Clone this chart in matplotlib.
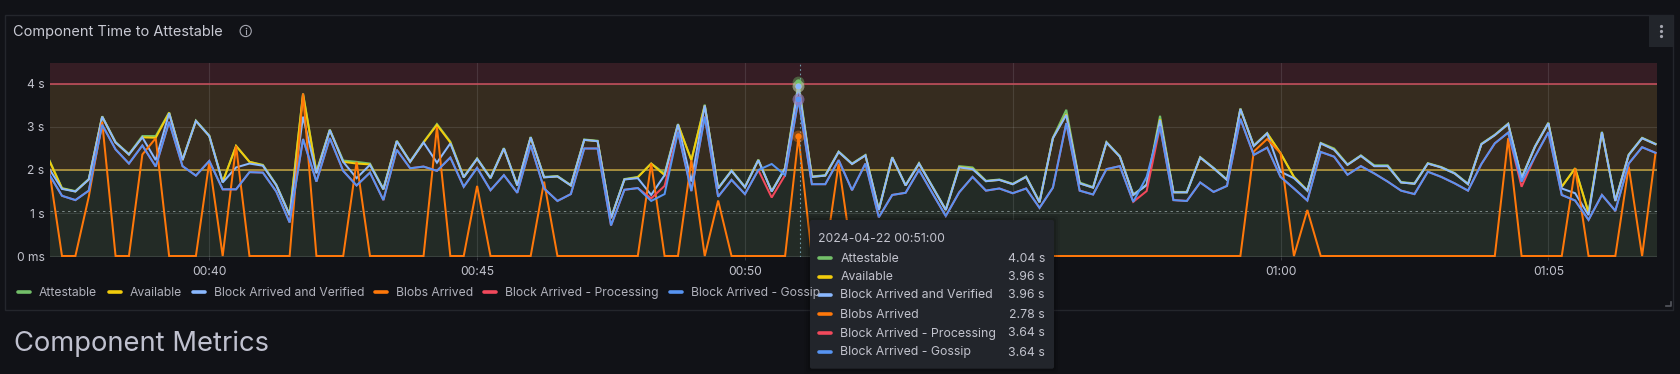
#grafana panel: component time to attestable

import numpy as np
import matplotlib
matplotlib.use('Agg')
import matplotlib.pyplot as plt
from matplotlib.patches import Rectangle, FancyBboxPatch, Circle

plt.rcParams['font.family'] = ['Inter', 'DejaVu Sans']

#values are in seconds, one sample every 15 s starting at 00:37:00
attestable = [2.27, 1.58, 1.51, 1.79, 3.25, 2.65, 2.37, 2.79, 2.79, 3.34,
              2.24, 3.15, 2.80, 1.73, 2.56, 2.19, 2.12, 1.66, 0.96, 3.78,
              1.96, 2.94, 2.22, 2.19, 2.15, 1.56, 2.68, 2.20, 2.65, 3.07,
              2.66, 1.84, 2.27, 1.82, 2.51, 1.65, 2.77, 1.84, 1.86, 1.65,
              2.71, 2.68, 0.89, 1.79, 1.84, 2.15, 1.92, 3.07, 2.23, 3.52,
              1.58, 1.99, 1.61, 2.24, 1.51, 2.05, 4.04, 1.85, 1.88, 2.43,
              2.15, 2.35, 1.08, 2.30, 1.65, 2.16, 1.62, 1.08, 2.09, 2.06,
              1.75, 1.78, 1.68, 1.85, 1.26, 2.75, 3.40, 1.71, 1.60, 2.65,
              2.32, 1.43, 1.66, 3.26, 1.49, 1.49, 2.30, 2.05, 1.78, 3.43,
              2.57, 2.86, 2.39, 1.84, 1.53, 2.63, 2.50, 2.13, 2.34, 2.11,
              2.11, 1.72, 1.69, 2.16, 2.07, 1.93, 1.68, 2.61, 2.82, 3.08,
              1.82, 2.55, 3.10, 1.61, 2.04, 1.01, 2.89, 1.29, 2.36, 2.75, 2.61]
available = [2.25, 1.57, 1.50, 1.78, 3.24, 2.64, 2.36, 2.76, 2.75, 3.33,
             2.23, 3.14, 2.79, 1.72, 2.56, 2.19, 2.11, 1.65, 0.95, 3.76,
             1.94, 2.93, 2.19, 2.15, 2.13, 1.55, 2.67, 2.19, 2.64, 3.05,
             2.64, 1.83, 2.26, 1.81, 2.50, 1.64, 2.76, 1.83, 1.85, 1.64,
             2.70, 2.67, 0.88, 1.78, 1.83, 2.15, 1.88, 3.06, 2.23, 3.50,
             1.57, 1.98, 1.60, 2.23, 1.50, 2.04, 3.96, 1.84, 1.87, 2.42,
             2.14, 2.34, 1.07, 2.29, 1.64, 2.15, 1.61, 1.07, 2.07, 2.03,
             1.74, 1.77, 1.67, 1.84, 1.25, 2.74, 3.30, 1.69, 1.59, 2.64,
             2.31, 1.42, 1.65, 3.18, 1.48, 1.48, 2.29, 2.04, 1.77, 3.42,
             2.56, 2.85, 2.39, 1.84, 1.52, 2.62, 2.48, 2.12, 2.33, 2.09,
             2.09, 1.71, 1.68, 2.15, 2.06, 1.92, 1.67, 2.60, 2.81, 3.07,
             1.81, 2.54, 3.09, 1.61, 2.04, 1.01, 2.88, 1.28, 2.35, 2.74, 2.60]
verified = [2.05, 1.56, 1.50, 1.78, 3.24, 2.64, 2.36, 2.76, 2.23, 3.32,
            2.23, 3.14, 2.79, 1.71, 2.06, 2.15, 2.10, 1.65, 0.95, 3.24,
            1.92, 2.93, 2.19, 1.81, 2.12, 1.55, 2.67, 2.19, 2.64, 2.17,
            2.62, 1.83, 2.26, 1.81, 2.50, 1.64, 2.76, 1.83, 1.85, 1.64,
            2.70, 2.67, 0.88, 1.78, 1.81, 1.42, 1.88, 3.06, 1.73, 3.50,
            1.57, 1.98, 1.60, 2.23, 1.50, 2.04, 3.96, 1.84, 1.87, 2.42,
            2.14, 2.34, 1.07, 2.29, 1.64, 2.15, 1.61, 1.07, 2.06, 2.02,
            1.74, 1.77, 1.67, 1.84, 1.25, 2.74, 3.28, 1.69, 1.59, 2.64,
            2.31, 1.42, 1.65, 3.16, 1.48, 1.48, 2.29, 2.04, 1.77, 3.42,
            2.56, 2.85, 1.96, 1.81, 1.52, 2.62, 2.47, 2.12, 2.33, 2.09,
            2.09, 1.71, 1.68, 2.15, 2.06, 1.92, 1.67, 2.60, 2.81, 3.07,
            1.81, 2.54, 3.09, 1.57, 1.46, 0.95, 2.88, 1.28, 2.35, 2.74, 2.60]
blobs = [2.10, 0, 0, 1.38, 3.12, 0, 0, 2.36, 2.74, 0,
         0, 0, 2.19, 0, 2.56, 0, 0, 0, 0, 3.78,
         0, 0, 0, 2.19, 0, 0, 0, 0, 0, 3.00,
         0, 0, 1.63, 0, 0, 0, 0, 1.73, 0, 0,
         0, 0, 0, 0, 0, 2.15, 0, 0, 2.23, 0,
         1.29, 0, 0, 0, 0, 0, 2.78, 0, 0, 2.15,
         0, 0, 0, 0, 0, 0, 0, 0, 0, 0,
         0, 0, 0, 0, 0, 0, 0, 0, 0, 0,
         0, 0, 0, 0, 0, 0, 0, 0, 0, 0,
         2.43, 2.72, 2.39, 0, 1.07, 0, 0, 0, 0, 0,
         0, 0, 0, 0, 0, 0, 0, 0, 0, 2.74,
         0, 0, 0, 0, 2.04, 0, 0, 0, 2.08, 0, 2.39]
processing = [1.92, 1.40, 1.30, 1.52, 3.05, 2.48, 2.15, 2.57, 2.08, 3.12,
              2.09, 1.87, 2.21, 1.55, 1.55, 1.95, 1.94, 1.50, 0.78, 2.72,
              1.73, 2.74, 1.98, 1.64, 1.94, 1.30, 2.47, 2.04, 2.08, 1.98,
              2.29, 1.61, 2.05, 1.53, 1.88, 1.47, 2.58, 1.57, 1.28, 1.44,
              2.50, 2.50, 0.71, 1.54, 1.58, 1.34, 1.63, 2.89, 1.51, 3.24,
              1.38, 1.77, 1.44, 2.00, 1.36, 1.88, 3.64, 1.67, 1.67, 2.23,
              1.53, 2.15, 0.90, 1.42, 1.47, 2.00, 1.46, 0.93, 1.48, 1.84,
              1.52, 1.57, 1.46, 1.57, 1.12, 1.59, 3.09, 1.52, 1.43, 2.02,
              2.09, 1.26, 1.51, 3.01, 1.30, 1.28, 1.71, 1.49, 1.63, 3.19,
              2.35, 2.52, 1.84, 1.57, 1.29, 2.42, 2.31, 1.89, 2.09, 1.92,
              1.73, 1.52, 1.44, 1.96, 1.84, 1.69, 1.52, 2.14, 2.62, 2.87,
              1.61, 2.31, 2.88, 1.42, 1.29, 0.84, 1.42, 1.05, 2.15, 2.53, 2.40]
gossip = [1.92, 1.40, 1.30, 1.52, 3.05, 2.48, 2.15, 2.57, 2.08, 3.12,
          2.09, 1.87, 2.21, 1.55, 1.55, 1.95, 1.94, 1.50, 0.78, 2.72,
          1.73, 2.74, 1.98, 1.64, 1.94, 1.30, 2.47, 2.04, 2.08, 1.98,
          2.29, 1.61, 2.05, 1.53, 1.88, 1.47, 2.58, 1.57, 1.28, 1.44,
          2.50, 2.50, 0.71, 1.54, 1.58, 1.28, 1.44, 2.89, 1.51, 3.24,
          1.38, 1.77, 1.44, 2.00, 2.14, 1.88, 3.64, 1.67, 1.67, 2.23,
          1.53, 2.15, 0.90, 1.42, 1.47, 2.00, 1.46, 0.93, 1.48, 1.84,
          1.52, 1.57, 1.46, 1.57, 1.12, 1.59, 3.09, 1.52, 1.43, 2.02,
          2.09, 1.26, 1.84, 3.01, 1.30, 1.28, 1.71, 1.49, 1.63, 3.19,
          2.35, 2.52, 1.84, 1.57, 1.29, 2.42, 2.31, 1.89, 2.09, 1.92,
          1.73, 1.52, 1.44, 1.96, 1.84, 1.69, 1.52, 2.14, 2.62, 2.87,
          1.73, 2.31, 2.88, 1.42, 1.29, 0.84, 1.42, 1.05, 2.15, 2.53, 2.40]

names = ['Attestable', 'Available', 'Block Arrived and Verified', 'Blobs Arrived',
         'Block Arrived - Processing', 'Block Arrived - Gossip']
colors = ['#73bf69', '#f2cc0c', '#8ab8ff', '#ff780a', '#f2495c', '#5794f2']
series = [attestable, available, verified, blobs, processing, gossip]

# 00:55 sits behind the tooltip, so it has no label
x_ticks = [0, 5, 10, 20, 25]
x_labels = ['00:40', '00:45', '00:50', '01:00', '01:05']
y_ticks = [0, 1, 2, 3, 4]
y_labels = ['0 ms', '1 s', '2 s', '3 s', '4 s']

tooltip_time = '2024-04-22 00:51:00'
tooltip_values = ['4.04 s', '3.96 s', '3.96 s', '2.78 s', '3.64 s', '3.64 s']
hover_index = 56

#minutes relative to 00:40
minutes = np.arange(len(attestable)) * 0.25 - 3

bg = '#111217'
text_col = '#c2c3cd'
W, H = 1680, 374

fig = plt.figure(figsize=(W / 100, H / 100), dpi=100, facecolor=bg)
ax = fig.add_axes([50 / W, 1 - 256.7 / H, (1657.1 - 50) / W, (256.7 - 63) / H])
ax.set_facecolor(bg)
ax.set_xlim(-2.974, 27.03)
ax.set_ylim(-0.016, 4.488)

# threshold bands and lines
ax.axhspan(-0.016, 2, color='#232b26', lw=0, zorder=0)
ax.axhspan(2, 4, color='#362c1f', lw=0, zorder=0)
ax.axhspan(4, 4.488, color='#351d24', lw=0, zorder=0)
ax.grid(True, color='#f0faff', alpha=0.11, lw=0.8, zorder=1)
ax.set_axisbelow(True)
ax.axvline(15, color='#f0faff', alpha=0.11, lw=0.8, zorder=1)
ax.axhline(4, color='#c14d5a', lw=1.2, zorder=2)
ax.axhline(2, color='#b89b3f', lw=1.2, zorder=2)
ax.axhline(1.04, color='#7d8a8a', lw=0.7, ls=(0, (2.5, 3.5)), zorder=2)

for vals, name, col in zip(series, names, colors):
    ax.plot(minutes, vals, color=col, lw=1.45, label=name, zorder=3, solid_joinstyle='miter')

# crosshair and hover dots
ax.axvline(11.03, color='#6f9aa8', lw=0.8, ls=(0, (1.5, 2.5)), zorder=4)
for vals, col in zip(series, colors):
    ax.plot(minutes[hover_index], vals[hover_index], 'o', ms=8.5, color=col, alpha=0.4, mew=0, zorder=5)
    ax.plot(minutes[hover_index], vals[hover_index], 'o', ms=4.6, color=col, mew=0, zorder=6)

ax.set_xticks(x_ticks)
ax.set_xticklabels(x_labels)
ax.set_yticks(y_ticks)
ax.set_yticklabels(y_labels)
ax.tick_params(axis='x', length=2.5, width=0.7, color='#3a3c42', labelsize=8.7, labelcolor=text_col, pad=4.2)
ax.tick_params(axis='y', length=0, labelsize=8.7, labelcolor=text_col, pad=4)
for s in ax.spines.values():
    s.set_visible(False)

# everything around the plot, in pixel coordinates
ov = fig.add_axes([0, 0, 1, 1], facecolor='none', zorder=10)
ov.set_xlim(0, W)
ov.set_ylim(H, 0)
ov.axis('off')

ov.add_patch(Rectangle((4.5, 14.5), 1668.5, 295, fill=False, ec='#24262c', lw=1))
ov.text(13, 32, 'Component Time to Attestable', color='#c9cad4', fontsize=10.45, va='center')
ov.add_patch(Circle((245.7, 31), 5.6, fill=False, ec='#a4a5af', lw=0.8))
ov.plot([245.7, 245.7], [30.2, 34], color='#a4a5af', lw=0.8)
ov.plot([245.7], [28], 'o', ms=1.1, mew=0, color='#a4a5af')

# panel menu
ov.add_patch(Rectangle((1649, 15), 24, 32, color='#22252b', lw=0))
ov.plot([1661, 1661, 1661], [26, 31, 36], 'o', ms=2.3, mew=0, color='#a4a5af')

# resize handle
ov.plot([1666, 1671, 1671], [306, 306, 302], color='#55575e', lw=1.2)

# legend
swatch_x = [17, 108, 192, 374, 483, 669]
for sx, name, col in zip(swatch_x, names, colors):
    ov.plot([sx + 1, sx + 13], [292, 292], color=col, lw=2.6, solid_capstyle='round')
    ov.text(sx + 21.8, 292.8, name, color='#b0b1bb', fontsize=8.75, va='center')

ov.text(13.5, 343.5, 'Component Metrics', color='#c0c1cf', fontsize=19.7, va='center')

# tooltip
for grow, a in [(6, 0.05), (4, 0.08), (2, 0.12)]:
    ov.add_patch(FancyBboxPatch((810 - grow, 220 - grow), 244 + 2 * grow, 148.7 + 2 * grow,
                                boxstyle='round,pad=0,rounding_size=3', fc='black', ec='none', alpha=a))
ov.add_patch(FancyBboxPatch((810, 220), 244, 148.7, boxstyle='round,pad=0,rounding_size=2',
                            fc='#22252b', ec='none'))
ov.text(818.3, 239.3, tooltip_time, color=text_col, fontsize=8.85, va='center')
row_y = [257.7, 276.7, 294.7, 313.7, 332.7, 351.7]
for y, name, col, val in zip(row_y, names, colors, tooltip_values):
    ov.plot([819, 831], [y, y], color=col, lw=2.6, solid_capstyle='round')
    ov.text(840.3, y + 0.8, name, color=text_col, fontsize=8.85, va='center')
    ov.text(1045, y + 0.8, val, color=text_col, fontsize=8.85, va='center', ha='right')

fig.savefig('out.png', dpi=100, facecolor=bg)
